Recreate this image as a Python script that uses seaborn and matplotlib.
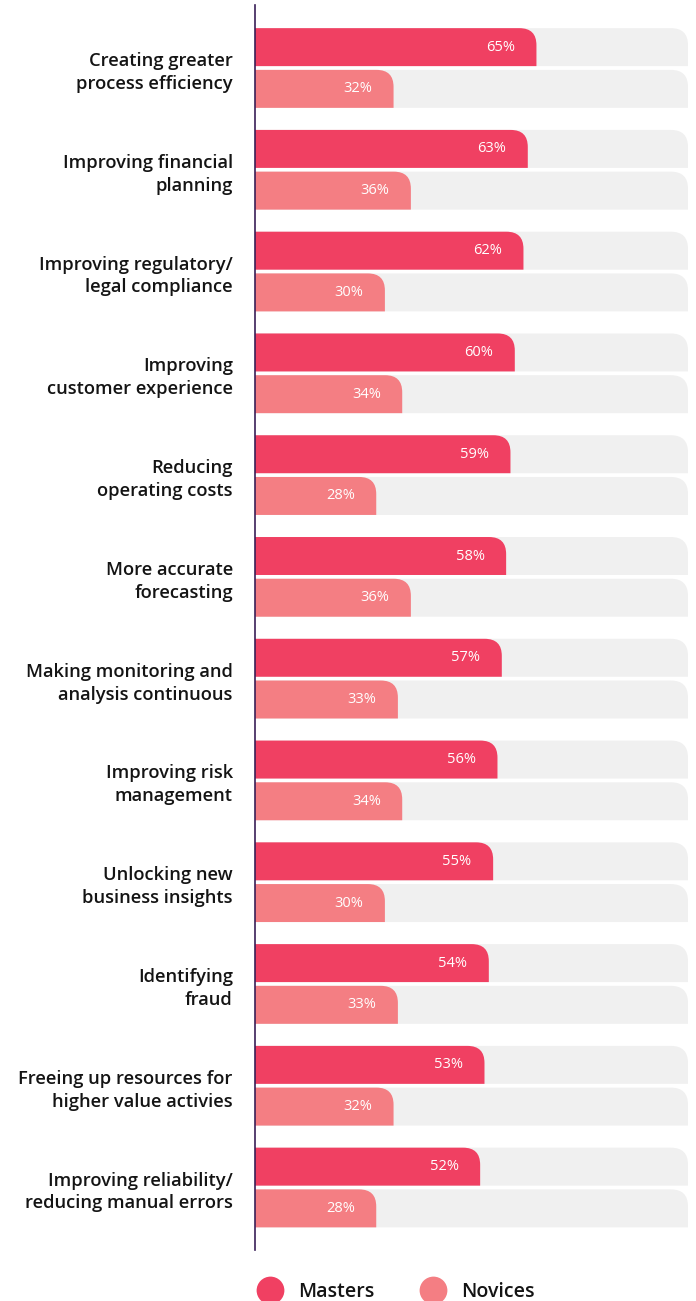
import matplotlib
matplotlib.use("Agg")
import matplotlib.pyplot as plt
from matplotlib.path import Path
from matplotlib.patches import PathPatch
from matplotlib.lines import Line2D
import seaborn as sns
import pandas as pd

categories = [
    "Creating greater\nprocess efficiency",
    "Improving financial\nplanning",
    "Improving regulatory/\nlegal compliance",
    "Improving\ncustomer experience",
    "Reducing\noperating costs",
    "More accurate\nforecasting",
    "Making monitoring and\nanalysis continuous",
    "Improving risk\nmanagement",
    "Unlocking new\nbusiness insights",
    "Identifying\nfraud",
    "Freeing up resources for\nhigher value activies",
    "Improving reliability/\nreducing manual errors",
]
masters = [65, 63, 62, 60, 59, 58, 57, 56, 55, 54, 53, 52]
novices = [32, 36, 30, 34, 28, 36, 33, 34, 30, 33, 32, 28]
groups = ["Masters", "Novices"]
full_scale = 100

MASTER_C = "#F04062"
NOVICE_C = "#F47E83"
BG_C = "#F0F0F0"
AXIS_C = "#3A1F57"

sns.set_style("white")
plt.rcParams["font.family"] = ["Open Sans", "DejaVu Sans"]

df = pd.DataFrame({
    "category": categories * 2,
    "value": masters + novices,
    "group": [groups[0]] * len(categories) + [groups[1]] * len(categories),
})
df_bg = df.copy()
df_bg["value"] = full_scale

W, H = 696, 1301
fig = plt.figure(figsize=(W / 100, H / 100), dpi=100)
ax_left, ax_right = 255 / W, 688 / W
ax_top, ax_bot = 1 - 5 / H, 1 - 1250 / H
ax = fig.add_axes([ax_left, ax_bot, ax_right - ax_left, ax_top - ax_bot])

sns.barplot(data=df_bg, y="category", x="value", hue="group", order=categories,
            hue_order=groups, palette=[BG_C, BG_C], orient="h", width=0.82, gap=0.09,
            dodge=True, legend=False, ax=ax, saturation=1)
n_bg = len(ax.patches)
sns.barplot(data=df, y="category", x="value", hue="group", order=categories,
            hue_order=groups, palette=[MASTER_C, NOVICE_C], orient="h", width=0.82, gap=0.09,
            dodge=True, legend=False, ax=ax, saturation=1)

ax.set_xlim(0, full_scale)
ax.set_ylim(11.614, -0.619)

# px per data unit
axw_px = (ax_right - ax_left) * W
axh_px = (ax_top - ax_bot) * H
px_x = axw_px / full_scale
px_y = axh_px / (11.614 + 0.619)
r_px = 17

patches = list(ax.patches)
for i, p in enumerate(patches):
    x0 = p.get_x()
    w = p.get_width()
    yt = p.get_y()
    h = p.get_height()
    yb = yt + h
    x1 = x0 + w
    if w <= 0:
        continue
    rx = min(r_px / px_x, w)
    ry = min(r_px / px_y, h)
    verts = [(x0, yb), (x1, yb), (x1, yt + ry), (x1, yt), (x1 - rx, yt), (x0, yt), (x0, yb)]
    codes = [Path.MOVETO, Path.LINETO, Path.LINETO, Path.CURVE3, Path.CURVE3, Path.LINETO, Path.CLOSEPOLY]
    newp = PathPatch(Path(verts, codes), facecolor=p.get_facecolor(), edgecolor="none",
                     zorder=p.get_zorder())
    p.remove()
    ax.add_patch(newp)
    if i >= n_bg:
        ax.annotate(f"{int(round(w))}%", xy=(x1, yt + h / 2), xytext=(-15.5, 0),
                    textcoords="offset points", ha="right", va="center",
                    color="white", fontsize=10.5)

ax.set_xlabel("")
ax.set_ylabel("")
ax.set_xticks([])
for s in ["top", "right", "bottom"]:
    ax.spines[s].set_visible(False)
ax.spines["left"].set_color(AXIS_C)
ax.spines["left"].set_linewidth(1.2)
ax.spines["left"].set_zorder(5)
ax.tick_params(axis="y", length=0, pad=16)
for t in ax.get_yticklabels():
    t.set_fontsize(13.2)
    t.set_fontweight("semibold")
    t.set_color("#141414")
    t.set_ha("right")
    t.set_multialignment("right")
    t.set_linespacing(1.35)

handles = [Line2D([], [], marker="o", linestyle="none", markersize=20,
                  markerfacecolor=c, markeredgecolor="none") for c in [MASTER_C, NOVICE_C]]
leg = fig.legend(handles, groups, loc="center", bbox_to_anchor=(393 / W, 1 - 1292 / H),
                 ncol=2, frameon=False, handletextpad=0.45, columnspacing=2.0,
                 borderaxespad=0, borderpad=0, prop={"size": 14, "weight": "semibold"})
for t in leg.get_texts():
    t.set_color("#141414")

fig.savefig("out.png", dpi=100)
